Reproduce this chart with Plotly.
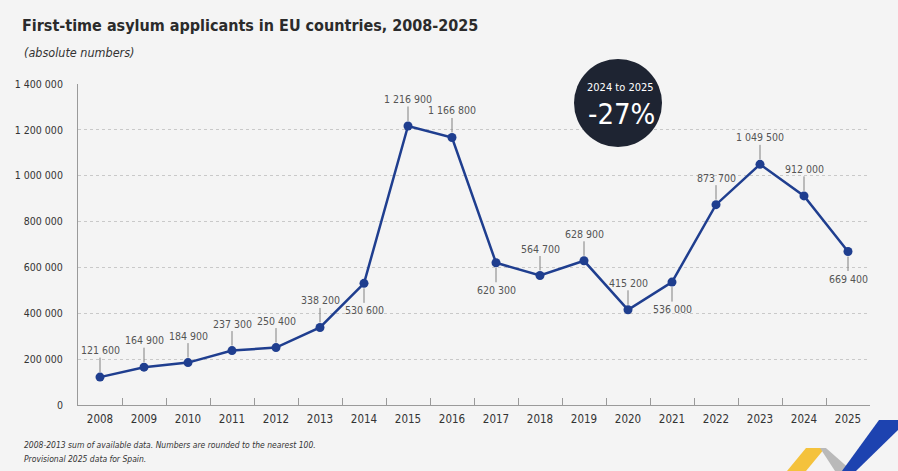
import plotly.graph_objects as go

years = [str(y) for y in range(2008, 2026)]
applicants = [121600, 164900, 184900, 237300, 250400, 338200, 530600, 1216900, 1166800,
              620300, 564700, 628900, 415200, 536000, 873700, 1049500, 912000, 669400]
# label above (1) or below (-1) the point
label_side = [1, 1, 1, 1, 1, 1, -1, 1, 1, -1, 1, 1, 1, -1, 1, 1, 1, -1]
y_ticks = [0, 200000, 400000, 600000, 800000, 1000000, 1200000, 1400000]

W, H = 898, 471
L, R, T, B = 78, 28, 84, 66
FONT = "DejaVu Sans Condensed, sans-serif"
BLUE = "#1f3e8f"


def px(x, y):
    # pixel position -> paper coords of the plot area
    return (x - L) / (W - L - R), (H - B - y) / (H - T - B)


def fmt(v):
    return f"{v:,}".replace(",", " ")


fig = go.Figure()
fig.add_trace(go.Scatter(
    x=years, y=applicants, mode="lines+markers",
    line=dict(color=BLUE, width=2.5),
    marker=dict(color=BLUE, size=9),
    hoverinfo="skip", cliponaxis=False,
))

for i, (v, side) in enumerate(zip(applicants, label_side)):
    fig.add_annotation(
        x=i, y=v, text=fmt(v), showarrow=True, arrowhead=0, arrowwidth=1,
        arrowcolor="#808080", ax=0, ay=-27 * side, standoff=5,
        font=dict(family=FONT, size=10.5, color="#555555"),
    )


def note(x, y, text, size, color="white", anchor="center"):
    a, b = px(x, y)
    fig.add_annotation(x=a, y=b, xref="paper", yref="paper", text=text, showarrow=False,
                       xanchor=anchor, yanchor="middle", align="left",
                       font=dict(family=FONT, size=size, color=color))


# circle callout
cx, cy = px(618, 103)
fig.add_shape(type="circle", xref="paper", yref="paper", xsizemode="pixel", ysizemode="pixel",
              xanchor=cx, yanchor=cy, x0=-44, x1=44, y0=-44, y1=44,
              fillcolor="#1e2432", line=dict(width=0))
note(620, 87, "2024 to 2025", 11)
note(621, 114, "-27%", 29)


# logo ribbons bottom right
def poly(pts, color):
    p = [px(*q) for q in pts]
    path = "M " + " L ".join(f"{a:.4f},{b:.4f}" for a, b in p) + " Z"
    fig.add_shape(type="path", xref="paper", yref="paper", path=path,
                  fillcolor=color, line=dict(width=0), layer="above")


poly([(787, 471), (806, 448), (825, 448), (806, 471)], "#f4c23c")
poly([(820, 448), (826, 448), (852, 471), (835, 471)], "#b9b9b9")
poly([(842, 471), (879, 420), (898, 420), (898, 430), (856, 471)], "#1d43b0")

note(22, 52, "<i>(absolute numbers)</i>", 12.5, "#333333", "left")
note(22, 445, "<i>2008-2013 sum of available data. Numbers are rounded to the nearest 100.</i>",
     8.5, "#333333", "left")
note(22, 459, "<i>Provisional 2025 data for Spain.</i>", 8.5, "#333333", "left")

fig.update_layout(
    width=W, height=H,
    margin=dict(l=L, r=R, t=T, b=B),
    paper_bgcolor="#f4f4f4", plot_bgcolor="#f4f4f4",
    showlegend=False,
    title=dict(text="<b>First-time asylum applicants in EU countries, 2008-2025</b>",
               x=22 / W, xanchor="left", y=1 - 25 / H, yanchor="middle",
               font=dict(family=FONT, size=16, color="#2b2b2b")),
    font=dict(family=FONT, color="#333333"),
)

fig.update_xaxes(
    type="category", range=[-0.5, len(years) - 0.5],
    showline=True, linecolor="#9a9a9a", linewidth=1,
    ticks="inside", tickson="boundaries", ticklen=7, tickcolor="#9a9a9a",
    showgrid=False, tickfont=dict(size=11.5, color="#333333"),
    ticklabelstandoff=3,
)
fig.update_yaxes(
    range=[0, 1400000], tickvals=y_ticks, ticktext=[fmt(v) for v in y_ticks],
    showline=True, linecolor="#9a9a9a", linewidth=1,
    showgrid=True, gridcolor="#c9c9c9", griddash="3px,3px", gridwidth=1,
    zeroline=False, ticklabelstandoff=12,
    tickfont=dict(size=10.5, color="#333333"),
)

fig.write_html("out.html", config={"displayModeBar": False},
               post_script="document.body.style.margin='0';")
